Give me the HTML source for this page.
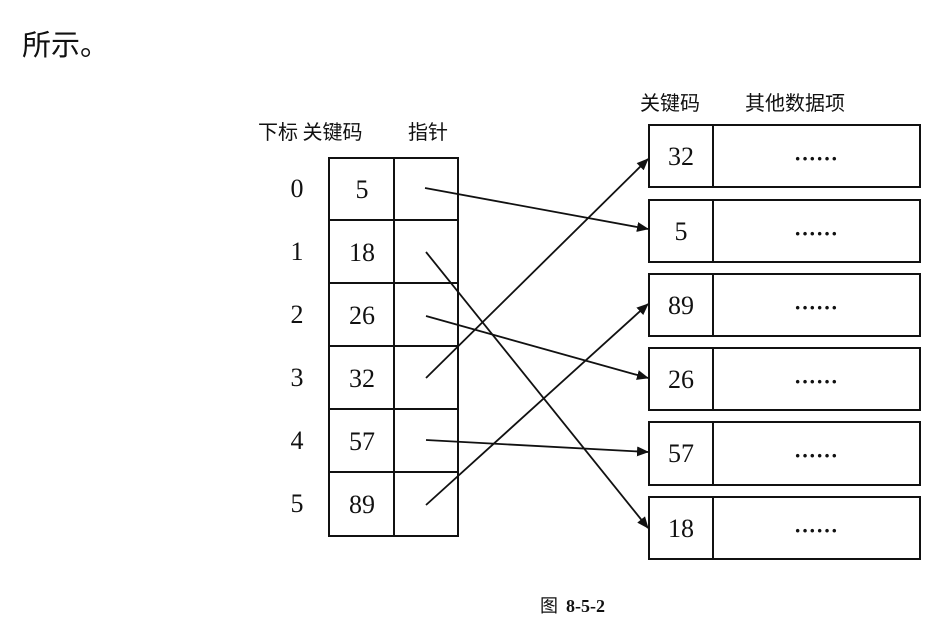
<!DOCTYPE html>
<html><head><meta charset="utf-8"><style>
body{margin:0;background:#fff;width:940px;height:628px;overflow:hidden;font-family:"Liberation Serif","Noto Serif CJK SC",serif;}
svg text{fill:#111;}
</style></head><body>
<svg width="940" height="628" viewBox="0 0 940 628" xmlns="http://www.w3.org/2000/svg">
<defs><marker id="a" markerWidth="12" markerHeight="10" refX="11" refY="5" orient="auto" markerUnits="userSpaceOnUse"><path d="M0,0 L12,5 L0,10 Z" fill="#111"/></marker></defs>
<text x="22" y="55" font-size="29" font-family="Noto Sans CJK SC, sans-serif">所示。</text>
<g font-family="Noto Sans CJK SC, sans-serif" font-size="20">
<text x="258" y="139">下标 关键码</text><text x="408" y="139">指针</text>
<text x="640" y="110">关键码</text><text x="745" y="110">其他数据项</text>
</g>
<g stroke="#111" stroke-width="2" fill="none">
<rect x="329" y="158" width="129" height="378"/>
<line x1="394" y1="158" x2="394" y2="536"/>
<line x1="329" y1="220" x2="458" y2="220"/>
<line x1="329" y1="283" x2="458" y2="283"/>
<line x1="329" y1="346" x2="458" y2="346"/>
<line x1="329" y1="409" x2="458" y2="409"/>
<line x1="329" y1="472" x2="458" y2="472"/>
<rect x="649" y="125" width="271" height="62"/><line x1="713" y1="125" x2="713" y2="187"/>
<rect x="649" y="200" width="271" height="62"/><line x1="713" y1="200" x2="713" y2="262"/>
<rect x="649" y="274" width="271" height="62"/><line x1="713" y1="274" x2="713" y2="336"/>
<rect x="649" y="348" width="271" height="62"/><line x1="713" y1="348" x2="713" y2="410"/>
<rect x="649" y="422" width="271" height="63"/><line x1="713" y1="422" x2="713" y2="485"/>
<rect x="649" y="497" width="271" height="62"/><line x1="713" y1="497" x2="713" y2="559"/>
</g>
<g stroke="#111" stroke-width="1.8" marker-end="url(#a)">
<line x1="425" y1="188" x2="648" y2="229"/>
<line x1="426" y1="252" x2="648" y2="528"/>
<line x1="426" y1="316" x2="648" y2="378"/>
<line x1="426" y1="378" x2="648" y2="159"/>
<line x1="426" y1="440" x2="648" y2="452"/>
<line x1="426" y1="505" x2="648" y2="304"/>
</g>
<g font-size="26" text-anchor="middle">
<text x="297" y="197">0</text><text x="297" y="260">1</text><text x="297" y="323">2</text><text x="297" y="386">3</text><text x="297" y="449">4</text><text x="297" y="512">5</text>
<text x="362" y="198">5</text><text x="362" y="261">18</text><text x="362" y="324">26</text><text x="362" y="387">32</text><text x="362" y="450">57</text><text x="362" y="513">89</text>
<text x="681" y="165">32</text><text x="681" y="240">5</text><text x="681" y="314">89</text><text x="681" y="388">26</text><text x="681" y="462">57</text><text x="681" y="537">18</text>
</g>
<g font-size="22" text-anchor="middle" font-weight="bold">
<text x="816" y="166">······</text><text x="816" y="241">······</text><text x="816" y="315">······</text><text x="816" y="389">······</text><text x="816" y="463">······</text><text x="816" y="538">······</text>
</g>
<text x="540" y="612" font-size="18" font-family="Noto Sans CJK SC, sans-serif">图</text>
<text x="566" y="612" font-size="18" font-weight="bold">8-5-2</text>
</svg>
</body></html>
